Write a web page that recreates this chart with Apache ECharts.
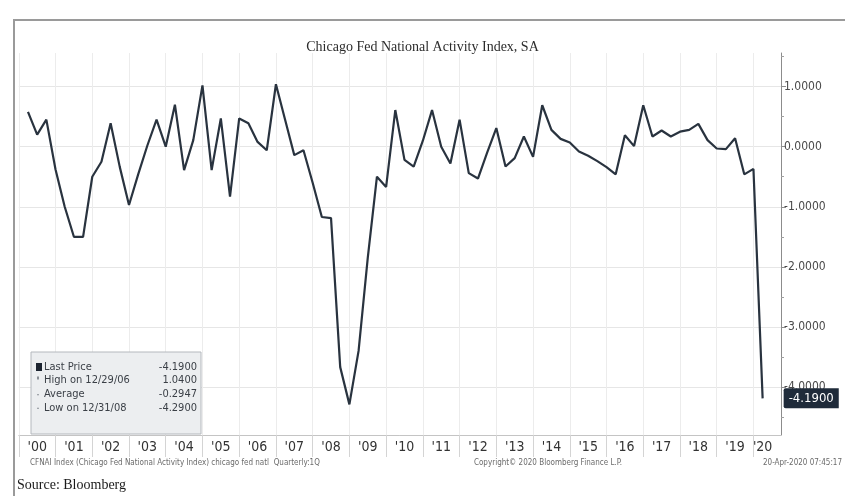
<!DOCTYPE html>
<html>
<head>
<meta charset="utf-8">
<script src="https://cdn.jsdelivr.net/npm/echarts@6/dist/echarts.min.js"></script>
<style>
  html, body { margin: 0; padding: 0; background: #ffffff; }
  #chart { width: 845px; height: 496px; }
</style>
</head>
<body>
<div id="chart"></div>
<script>
// Quarter-end observations, 2000 Q1 .. 2020 Q1
const quarters = [
  '2000Q1','2000Q2','2000Q3','2000Q4','2001Q1','2001Q2','2001Q3','2001Q4',
  '2002Q1','2002Q2','2002Q3','2002Q4','2003Q1','2003Q2','2003Q3','2003Q4',
  '2004Q1','2004Q2','2004Q3','2004Q4','2005Q1','2005Q2','2005Q3','2005Q4',
  '2006Q1','2006Q2','2006Q3','2006Q4','2007Q1','2007Q2','2007Q3','2007Q4',
  '2008Q1','2008Q2','2008Q3','2008Q4','2009Q1','2009Q2','2009Q3','2009Q4',
  '2010Q1','2010Q2','2010Q3','2010Q4','2011Q1','2011Q2','2011Q3','2011Q4',
  '2012Q1','2012Q2','2012Q3','2012Q4','2013Q1','2013Q2','2013Q3','2013Q4',
  '2014Q1','2014Q2','2014Q3','2014Q4','2015Q1','2015Q2','2015Q3','2015Q4',
  '2016Q1','2016Q2','2016Q3','2016Q4','2017Q1','2017Q2','2017Q3','2017Q4',
  '2018Q1','2018Q2','2018Q3','2018Q4','2019Q1','2019Q2','2019Q3','2019Q4',
  '2020Q1'
];

// Chicago Fed National Activity Index, seasonally adjusted
const cfnai = [
   0.58,  0.20,  0.45, -0.38, -1.00, -1.50, -1.50, -0.50, -0.25,  0.39,
  -0.34, -0.97, -0.46,  0.02,  0.45,  0.00,  0.70, -0.39,  0.11,  1.02,
  -0.39,  0.47, -0.83,  0.47,  0.39,  0.08, -0.06,  1.04,  0.45, -0.14,
  -0.06, -0.60, -1.17, -1.19, -3.67, -4.29, -3.40, -1.85, -0.50, -0.67,
   0.61, -0.22, -0.33,  0.10,  0.61,  0.00, -0.28,  0.45, -0.44, -0.53,
  -0.10,  0.31, -0.33, -0.19,  0.17, -0.17,  0.69,  0.28,  0.13,  0.07,
  -0.08, -0.15, -0.24, -0.34, -0.46,  0.19,  0.01,  0.69,  0.17,  0.27,
   0.17,  0.25,  0.28,  0.38,  0.11, -0.03, -0.04,  0.14, -0.46, -0.37,
  -4.19
];

const yearLabels = ["'00","'01","'02","'03","'04","'05","'06","'07","'08","'09","'10",
                    "'11","'12","'13","'14","'15","'16","'17","'18","'19","'20"];
const yTickValues = [-4, -3, -2, -1, 0, 1];

const reportedAverage = -0.2947;
const highDate = '12/29/06';
const lowDate = '12/31/08';

// ---- derived positions on the quarter index axis ----
const yearOf = q => Number(q.slice(0, 4));
// year labels sit on the mid-year (Q2) point; the final partial year on its last point
const labelPos = [];
const labelText = {};
yearLabels.forEach((lab, k) => {
  const yr = 2000 + k;
  let idx = quarters.indexOf(yr + 'Q2');
  if (idx < 0) idx = quarters.lastIndexOf(quarters.filter(q => yearOf(q) === yr).pop());
  labelPos.push(idx);
  labelText[idx] = lab;
});
// year separators at each Q4 point, plus the start of the first year
const yearEdges = [-1];
quarters.forEach((q, i) => { if (q.endsWith('Q4')) yearEdges.push(i); });

const lastVal = cfnai[cfnai.length - 1];
const highVal = Math.max(...cfnai);
const lowVal = Math.min(...cfnai);

const seriesData = cfnai.map((v, i) => [i, v]);

const chart = echarts.init(document.getElementById('chart'), null, { renderer: 'canvas' });

const narrow = "'Liberation Sans Narrow', 'DejaVu Sans Condensed', 'Liberation Sans', sans-serif";

const statRows = [
  { mark: 'square', name: 'Last Price', value: lastVal.toFixed(4) },
  { mark: 'tick', name: 'High on ' + highDate, value: highVal.toFixed(4) },
  { mark: 'dash', name: 'Average', value: reportedAverage.toFixed(4) },
  { mark: 'dash', name: 'Low on ' + lowDate, value: lowVal.toFixed(4) }
];

const legendElems = [
  { type: 'rect', shape: { x: 31, y: 352, width: 170, height: 82 },
    style: { fill: '#eceef0', stroke: '#b4b8bd', lineWidth: 1 }, z: 10 }
];
statRows.forEach((r, k) => {
  const y = 367 + k * 13.6;
  if (r.mark === 'square') {
    legendElems.push({ type: 'rect', shape: { x: 36, y: y - 4, width: 6, height: 8 },
      style: { fill: '#1c2430' }, z: 11 });
  } else {
    legendElems.push({ type: 'rect', shape: { x: 37, y: y - (r.mark === 'tick' ? 4 : 0), width: 2, height: r.mark === 'tick' ? 3 : 1 },
      style: { fill: '#8a8f96' }, z: 11 });
  }
  legendElems.push({ type: 'text', x: 44, y: y, z: 11,
    style: { text: r.name, font: '11px ' + narrow, fill: '#3a3f46', textVerticalAlign: 'middle' } });
  legendElems.push({ type: 'text', x: 197, y: y, z: 11,
    style: { text: r.value, font: '11px ' + narrow, fill: '#3a3f46', textAlign: 'right', textVerticalAlign: 'middle' } });
});

const option = {
  animation: false,
  backgroundColor: '#ffffff',
  title: {
    text: 'Chicago Fed National Activity Index, SA',
    left: 'center',
    top: 35,
    textStyle: { fontFamily: "'Liberation Serif', serif", fontSize: 14, fontWeight: 'normal', color: '#2c2c2c' }
  },
  grid: { left: 18.8, right: 64, top: 53, bottom: 61 },
  xAxis: {
    type: 'value',
    min: -1,
    max: 82,
    axisLine: { show: true, onZero: false, lineStyle: { color: '#c4c4c4', width: 1 } },
    axisTick: { show: true, customValues: yearEdges, length: 22, lineStyle: { color: '#d4d4d4' } },
    axisLabel: {
      customValues: labelPos,
      formatter: v => labelText[v] || '',
      margin: 5,
      fontFamily: narrow,
      fontSize: 14,
      color: '#333333'
    },
    splitLine: { show: true, lineStyle: { color: '#ececec', width: 1 } }
  },
  yAxis: {
    type: 'value',
    position: 'right',
    min: -4.8,
    max: 1.56,
    axisLine: { show: true, onZero: false, lineStyle: { color: '#8c8c8c', width: 1 } },
    axisTick: { show: true, customValues: yTickValues, length: 5, lineStyle: { color: '#8c8c8c' } },
    minorTick: { show: true, splitNumber: 2, length: 3, lineStyle: { color: '#a0a0a0' } },
    axisLabel: {
      customValues: yTickValues,
      formatter: v => v.toFixed(4),
      margin: 3,
      fontFamily: narrow,
      fontSize: 12,
      color: '#4a4a4a'
    },
    splitLine: { show: true, lineStyle: { color: '#e6e6e6', width: 1 } }
  },
  series: [{
    type: 'line',
    data: seriesData,
    symbol: 'none',
    lineStyle: { color: '#29333f', width: 2.2 },
    z: 5,
    endLabel: {
      show: true,
      formatter: p => p.value[1].toFixed(4),
      distance: 21,
      backgroundColor: '#1f2b3a',
      color: '#ffffff',
      fontFamily: narrow,
      fontSize: 13,
      padding: [4, 5, 3, 5],
      borderRadius: [2, 0, 0, 2]
    }
  }],
  graphic: [
    // outer frame
    { type: 'rect', shape: { x: 14, y: 20, width: 845, height: 500 },
      style: { fill: 'none', stroke: '#9a9a9a', lineWidth: 2 }, z: 0, silent: true },
    ...legendElems,
    { type: 'text', x: 30, y: 463,
      style: { text: 'CFNAI Index (Chicago Fed National Activity Index) chicago fed natl  Quarterly:1Q',
               font: '8px ' + narrow, fill: '#6b6b6b', textVerticalAlign: 'middle' } },
    { type: 'text', x: 548, y: 463,
      style: { text: 'Copyright\u00A9 2020 Bloomberg Finance L.P.',
               font: '8px ' + narrow, fill: '#6b6b6b', textAlign: 'center', textVerticalAlign: 'middle' } },
    { type: 'text', x: 842, y: 463,
      style: { text: '20-Apr-2020 07:45:17',
               font: '8px ' + narrow, fill: '#6b6b6b', textAlign: 'right', textVerticalAlign: 'middle' } },
    { type: 'text', x: 17, y: 485,
      style: { text: 'Source: Bloomberg', font: '14px "Liberation Serif", serif', fill: '#1a1a1a', textVerticalAlign: 'middle' } }
  ]
};

chart.setOption(option);
</script>
</body>
</html>
